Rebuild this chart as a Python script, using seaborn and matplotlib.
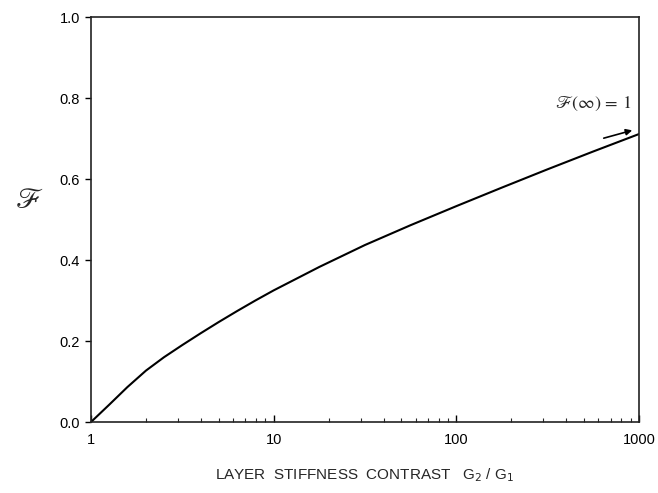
import matplotlib
matplotlib.use("Agg")
import matplotlib.pyplot as plt
import seaborn as sns
import pandas as pd
from matplotlib.ticker import FixedLocator, LogLocator, NullFormatter, FixedFormatter

# Data
contrast = [1, 1.26, 1.58, 2.0, 2.51, 3.16, 3.98, 5.01, 6.31, 7.94, 10,
            17.8, 31.6, 56.2, 100, 178, 316, 562, 1000]
f_value = [0.0, 0.043, 0.086, 0.127, 0.160, 0.190, 0.219, 0.247, 0.274, 0.300, 0.325,
           0.383, 0.437, 0.486, 0.533, 0.579, 0.624, 0.668, 0.711]
x_ticks = [1, 10, 100, 1000]
x_tick_labels = ["1", "10", "100", "1000"]
y_ticks = [0.0, 0.2, 0.4, 0.6, 0.8, 1.0]
y_tick_labels = ["0.0", "0.2", "0.4", "0.6", "0.8", "1.0"]

sns.set_style("ticks")
plt.rcParams['font.family'] = ['Liberation Sans', 'DejaVu Sans']

df = pd.DataFrame({"G": contrast, "F": f_value})

fig = plt.figure(figsize=(6.58, 4.93), dpi=100)
ax = fig.add_axes([0.1383, 0.144, 0.8328, 0.8215])
sns.lineplot(data=df, x="G", y="F", ax=ax, color="black", linewidth=1.5)

ax.set_xscale("log")
ax.set_xlim(1, 1000)
ax.set_ylim(0, 1.0)
ax.xaxis.set_major_locator(FixedLocator(x_ticks))
ax.xaxis.set_major_formatter(FixedFormatter(x_tick_labels))
ax.xaxis.set_minor_locator(LogLocator(base=10, subs=range(2, 10)))
ax.xaxis.set_minor_formatter(NullFormatter())
ax.set_yticks(y_ticks)
ax.set_yticklabels(y_tick_labels)

ax.tick_params(axis="x", which="major", direction="in", length=5, width=1, labelsize=10.5, pad=8, colors="black")
ax.tick_params(axis="x", which="minor", direction="in", length=3, width=0.8)
ax.tick_params(axis="y", which="major", direction="out", length=4, width=1, labelsize=10.5, pad=4, colors="black")
for s in ax.spines.values():
    s.set_visible(True)
    s.set_linewidth(1.2)
    s.set_color("#222222")

ax.set_xlabel(r"LAYER  STIFFNESS  CONTRAST   G$_2$ / G$_1$", fontsize=11, labelpad=14)
ax.set_ylabel("")
fig.text(0.045, 0.595, r"$\mathscr{F}$", fontsize=21, ha="center", va="center",
         math_fontfamily="stix")

ax.text(558, 0.785, r"$\mathscr{F}(\infty)\, =\, 1$", fontsize=13, ha="center", va="center",
        math_fontfamily="stix")
ax.annotate("", xy=(950, 0.722), xytext=(620, 0.699),
            arrowprops=dict(arrowstyle="-|>", color="black", lw=1.2, mutation_scale=9))

fig.savefig("out.png", dpi=100)
